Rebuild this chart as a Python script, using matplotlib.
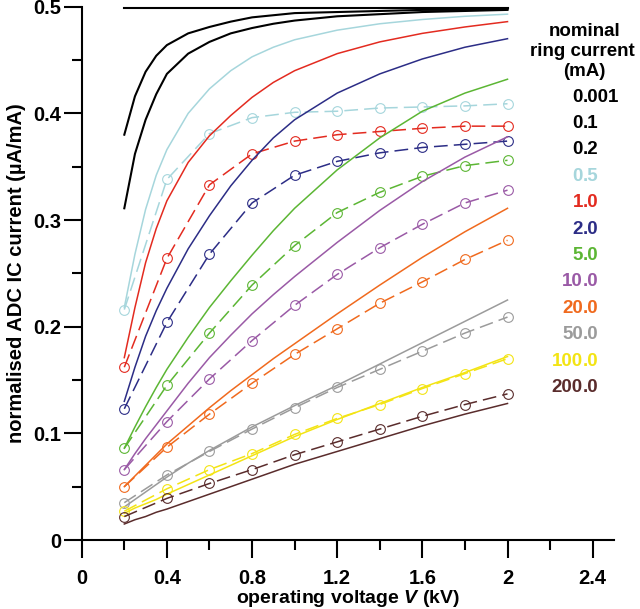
import matplotlib
matplotlib.use("Agg")
import matplotlib.pyplot as plt
import numpy as np

plt.rcParams['font.family'] = ['Liberation Sans', 'DejaVu Sans']
plt.rcParams['font.weight'] = 'bold'
plt.rcParams['mathtext.fontset'] = 'custom'
plt.rcParams['mathtext.bfit'] = 'Liberation Sans:bold:italic'
plt.rcParams['mathtext.it'] = 'Liberation Sans:bold:italic'

# operating voltage (kV)
v_meas = [0.2, 0.4, 0.6, 0.8, 1.0, 1.2, 1.4, 1.6, 1.8, 2.0]
v_model = [0.2, 0.25, 0.3, 0.35, 0.4, 0.5, 0.6, 0.7, 0.8, 0.9, 1.0, 1.2, 1.4, 1.6, 1.8, 2.0]

# nominal ring current (mA) and colours
ring_labels = ["0.001", "0.1", "0.2", "0.5", "1.0", "2.0", "5.0",
               "10.0", "20.0", "50.0", "100.0", "200.0"]
colours = ["#000000", "#000000", "#000000", "#a6d6dc", "#e32b20", "#2c2d86",
           "#5cb634", "#9a5aa6", "#f06a1e", "#9b9b9b", "#f3e414", "#5a2c2c"]

# model curves (solid), one per ring current
model = {
    "0.001": [0.499, 0.499, 0.499, 0.499, 0.499, 0.499, 0.499, 0.499, 0.499, 0.499, 0.499, 0.499, 0.499, 0.499, 0.499, 0.499],
    "0.1":   [0.380, 0.416, 0.439, 0.454, 0.464, 0.475, 0.481, 0.486, 0.490, 0.492, 0.494, 0.495, 0.496, 0.497, 0.497, 0.498],
    "0.2":   [0.311, 0.362, 0.394, 0.418, 0.437, 0.456, 0.467, 0.475, 0.480, 0.484, 0.487, 0.491, 0.493, 0.495, 0.496, 0.497],
    "0.5":   [0.218, 0.268, 0.310, 0.342, 0.366, 0.400, 0.423, 0.440, 0.453, 0.462, 0.469, 0.478, 0.484, 0.488, 0.491, 0.493],
    "1.0":   [0.171, 0.218, 0.260, 0.292, 0.318, 0.354, 0.379, 0.398, 0.415, 0.429, 0.440, 0.456, 0.467, 0.475, 0.481, 0.486],
    "2.0":   [0.130, 0.162, 0.191, 0.215, 0.236, 0.273, 0.304, 0.332, 0.356, 0.377, 0.394, 0.419, 0.437, 0.451, 0.462, 0.470],
    "5.0":   [0.086, 0.106, 0.125, 0.143, 0.160, 0.190, 0.218, 0.243, 0.267, 0.290, 0.311, 0.347, 0.377, 0.402, 0.419, 0.432],
    "10.0":  [0.066, 0.081, 0.095, 0.108, 0.121, 0.147, 0.171, 0.192, 0.212, 0.230, 0.247, 0.279, 0.309, 0.336, 0.359, 0.378],
    "20.0":  [0.050, 0.060, 0.070, 0.080, 0.090, 0.107, 0.124, 0.140, 0.155, 0.170, 0.184, 0.212, 0.239, 0.265, 0.289, 0.311],
    "50.0":  [0.031, 0.038, 0.045, 0.052, 0.059, 0.072, 0.084, 0.095, 0.106, 0.116, 0.126, 0.145, 0.165, 0.185, 0.205, 0.225],
    "100.0": [0.025, 0.030, 0.034, 0.038, 0.043, 0.052, 0.061, 0.070, 0.079, 0.088, 0.097, 0.113, 0.128, 0.143, 0.157, 0.172],
    "200.0": [0.015, 0.019, 0.022, 0.026, 0.029, 0.036, 0.043, 0.050, 0.057, 0.064, 0.071, 0.083, 0.095, 0.107, 0.118, 0.128],
}

# measured values (dashed with circles)
measured = {
    "0.5":   [0.216, 0.338, 0.381, 0.396, 0.401, 0.402, 0.405, 0.406, 0.407, 0.409],
    "1.0":   [0.162, 0.264, 0.333, 0.362, 0.374, 0.380, 0.383, 0.386, 0.388, 0.388],
    "2.0":   [0.123, 0.204, 0.268, 0.316, 0.342, 0.355, 0.363, 0.368, 0.371, 0.374],
    "5.0":   [0.086, 0.145, 0.194, 0.239, 0.276, 0.307, 0.326, 0.341, 0.351, 0.356],
    "10.0":  [0.066, 0.111, 0.151, 0.187, 0.220, 0.249, 0.274, 0.296, 0.316, 0.328],
    "20.0":  [0.050, 0.087, 0.118, 0.147, 0.174, 0.198, 0.222, 0.242, 0.263, 0.281],
    "50.0":  [0.035, 0.061, 0.083, 0.104, 0.124, 0.143, 0.160, 0.177, 0.194, 0.209],
    "100.0": [0.027, 0.048, 0.066, 0.081, 0.099, 0.114, 0.127, 0.142, 0.156, 0.170],
    "200.0": [0.022, 0.039, 0.053, 0.066, 0.080, 0.092, 0.104, 0.116, 0.127, 0.137],
}

fig = plt.figure(figsize=(6.4, 6.09), dpi=100)
ax = fig.add_axes([0.1277, 0.1133, 0.8316, 0.8757])

for lab, col in zip(ring_labels, colours):
    lw = 1.5 if col == "#000000" else 1.1
    ax.plot(v_model, model[lab], color=col, lw=lw, clip_on=False,
            solid_joinstyle='round')
    if lab in measured:
        ax.plot(v_meas, measured[lab], color=col, lw=1.1, dashes=(9, 4),
                marker='o', ms=7, mfc='none', mec=col, mew=0.8, clip_on=False)

ax.set_xlim(0, 2.5)
ax.set_ylim(0, 0.5)
ax.set_xticks(np.arange(0, 2.41, 0.4))
ax.set_xticklabels(["0", "0.4", "0.8", "1.2", "1.6", "2", "2.4"])
ax.set_xticks(np.arange(0.2, 2.41, 0.4), minor=True)
ax.set_yticks(np.arange(0, 0.51, 0.1))
ax.set_yticklabels(["0", "0.1", "0.2", "0.3", "0.4", "0.5"])
ax.set_yticks(np.arange(0.05, 0.5, 0.1), minor=True)

for s in ["top", "right"]:
    ax.spines[s].set_visible(False)
for s in ["left", "bottom"]:
    ax.spines[s].set_linewidth(1.5)

ax.tick_params(axis='both', which='major', length=13, width=1.5, labelsize=14.5)
ax.tick_params(axis='both', which='minor', length=7, width=1.5)
ax.tick_params(axis='x', which='major', pad=8)
ax.tick_params(axis='y', which='major', pad=2)

ax.set_xlabel("operating voltage $\\mathit{V}$ (kV)", fontsize=14, fontweight='bold', labelpad=0)
ax.set_ylabel("normalised ADC IC current (\u00b5A/mA)", fontsize=14.5, fontweight='bold', labelpad=5)

# legend-like text block on the right
fig.text(585 / 640, 1 - 32 / 609, "nominal", ha='center', va='center', fontsize=13.5, fontweight='bold')
fig.text(582 / 640, 1 - 52 / 609, "ring current", ha='center', va='center', fontsize=13.5, fontweight='bold')
fig.text(584 / 640, 1 - 72 / 609, "(mA)", ha='center', va='center', fontsize=13.5, fontweight='bold')
x_dec = 583 / 640
for i, (lab, col) in enumerate(zip(ring_labels, colours)):
    y = 1 - (97 + i * 26.4) / 609
    whole, frac = lab.split(".")
    fig.text(x_dec, y, whole, ha='right', va='center', fontsize=13.5, fontweight='bold', color=col)
    fig.text(x_dec, y, "." + frac, ha='left', va='center', fontsize=13.5, fontweight='bold', color=col)

fig.savefig("out.png", dpi=100)
